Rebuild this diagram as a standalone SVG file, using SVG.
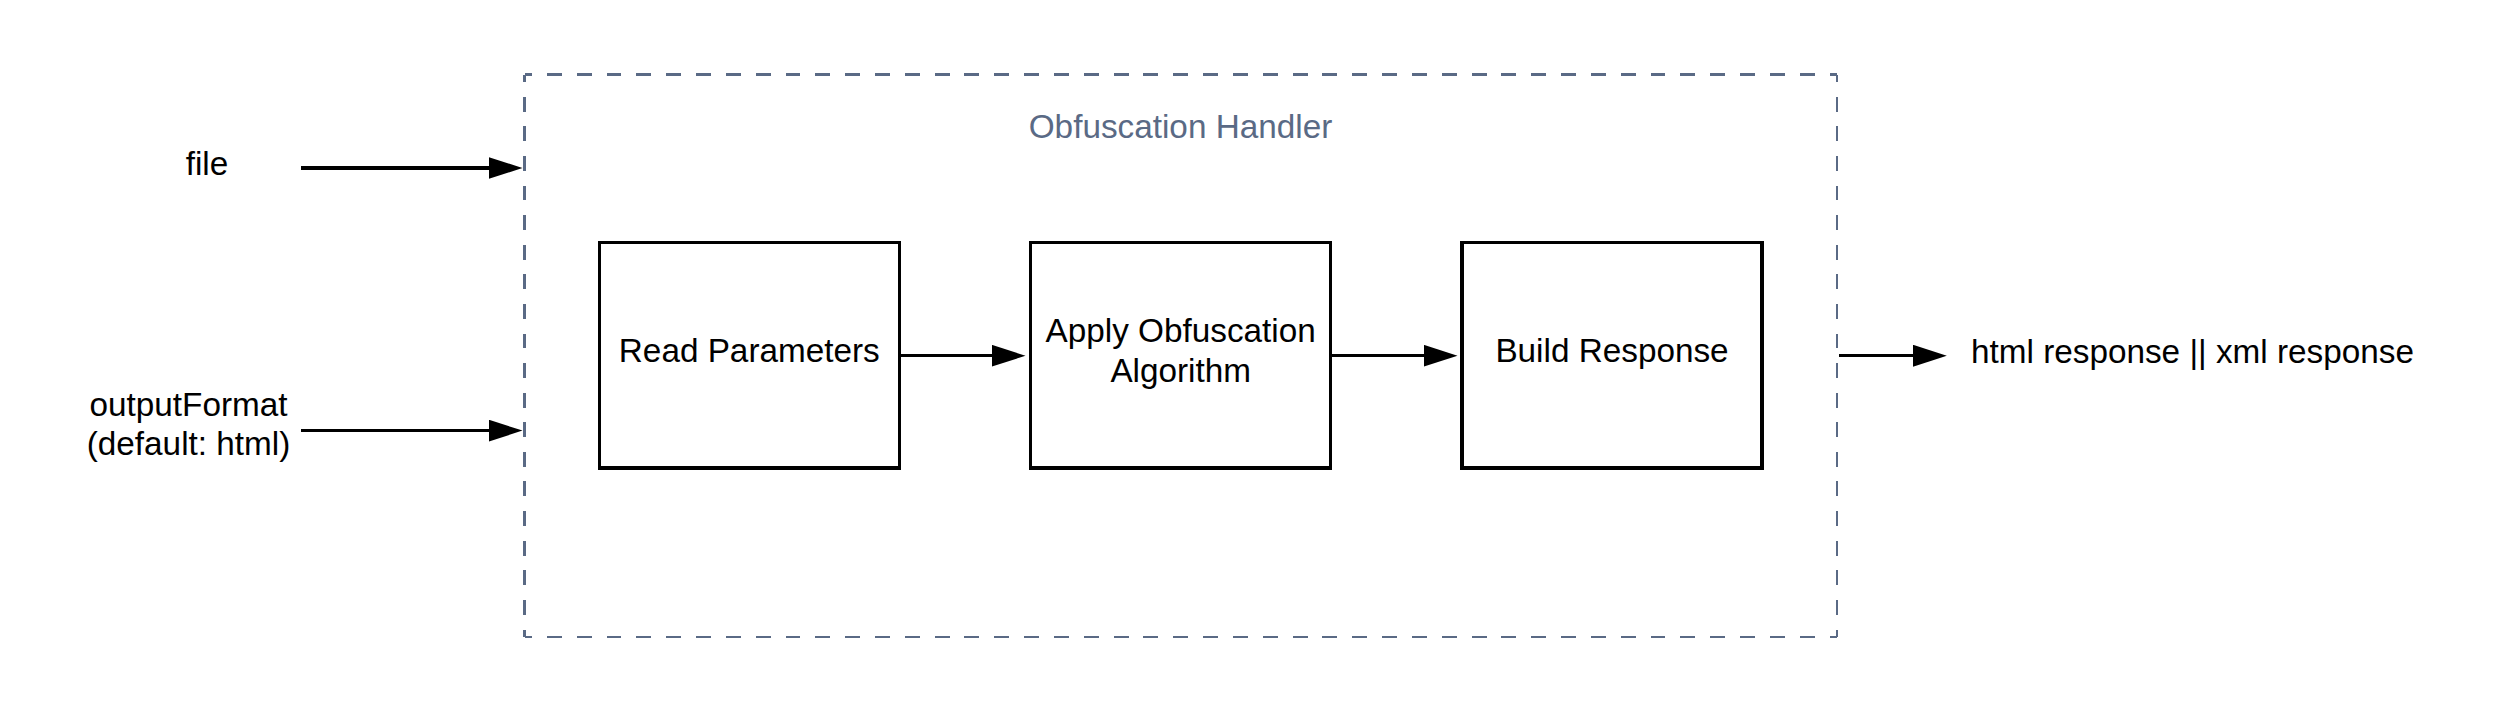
<svg xmlns="http://www.w3.org/2000/svg" width="2513" height="713" viewBox="0 0 2513 713">
  <style>
    .lbl { font-family: "Liberation Sans", Arial, sans-serif; font-size: 33.3px; fill: #000000; }
    .title { font-family: "Liberation Sans", Arial, sans-serif; font-size: 33.3px; fill: #5a6a85; }
    .box { fill: #ffffff; stroke: #000000; stroke-width: 3.4; shape-rendering: crispEdges; }
    .conn { stroke: #000000; stroke-width: 3.4; fill: none; shape-rendering: crispEdges; }
    .dash { stroke: #5a6a85; stroke-width: 2.8; fill: none; shape-rendering: crispEdges; }
  </style>
  <defs>
    <marker id="arrow" markerUnits="userSpaceOnUse" viewBox="0 0 34 22" markerWidth="34" markerHeight="22" refX="0.5" refY="11" orient="auto">
      <path d="M0,0 L34,11 L0,22 Z" fill="#000000"/>
    </marker>
  </defs>
  <rect width="2513" height="713" fill="#ffffff"/>

  <g id="container">
    <line class="dash" x1="524.5" y1="74.5" x2="1837" y2="74.5" stroke-dasharray="14.915 14.915" stroke-dashoffset="7.46"/>
    <line class="dash" x1="524.5" y1="637" x2="1837" y2="637" stroke-dasharray="14.915 14.915" stroke-dashoffset="7.46"/>
    <line class="dash" x1="524.5" y1="74.5" x2="524.5" y2="637" stroke-dasharray="14.8 14.8" stroke-dashoffset="7.4"/>
    <line class="dash" x1="1837" y1="74.5" x2="1837" y2="637" stroke-dasharray="14.8 14.8" stroke-dashoffset="7.4"/>
    <text class="title" x="1180.5" y="138" text-anchor="middle">Obfuscation Handler</text>
  </g>

  <g id="input-file">
    <text class="lbl" x="207" y="175" text-anchor="middle">file</text>
  </g>

  <g id="input-outputFormat">
    <text class="lbl" x="188.5" y="416" text-anchor="middle">outputFormat</text>
    <text class="lbl" x="188.5" y="455" text-anchor="middle">(default: html)</text>
  </g>

  <g id="read-parameters">
    <rect class="box" x="599.3" y="242.7" width="300" height="225.3"/>
    <text class="lbl" x="749.3" y="362" text-anchor="middle">Read Parameters</text>
  </g>

  <g id="apply-obfuscation">
    <rect class="box" x="1030.7" y="242.7" width="300" height="225.3"/>
    <text class="lbl" x="1180.7" y="342" text-anchor="middle">Apply Obfuscation</text>
    <text class="lbl" x="1180.7" y="382" text-anchor="middle">Algorithm</text>
  </g>

  <g id="build-response">
    <rect class="box" x="1462" y="242.7" width="300" height="225.3"/>
    <text class="lbl" x="1612" y="362" text-anchor="middle">Build Response</text>
  </g>

  <g id="output">
    <text class="lbl" x="1971" y="362.7">html response || xml response</text>
  </g>

  <g id="connectors">
    <line class="conn" x1="301" y1="168" x2="489" y2="168" marker-end="url(#arrow)"/>
    <line class="conn" x1="301" y1="430.6" x2="489" y2="430.6" marker-end="url(#arrow)"/>
    <line class="conn" x1="899.3" y1="355.7" x2="992" y2="355.7" marker-end="url(#arrow)"/>
    <line class="conn" x1="1330.7" y1="355.7" x2="1424" y2="355.7" marker-end="url(#arrow)"/>
    <line class="conn" x1="1839" y1="355.7" x2="1913.3" y2="355.7" marker-end="url(#arrow)"/>
  </g>
</svg>
